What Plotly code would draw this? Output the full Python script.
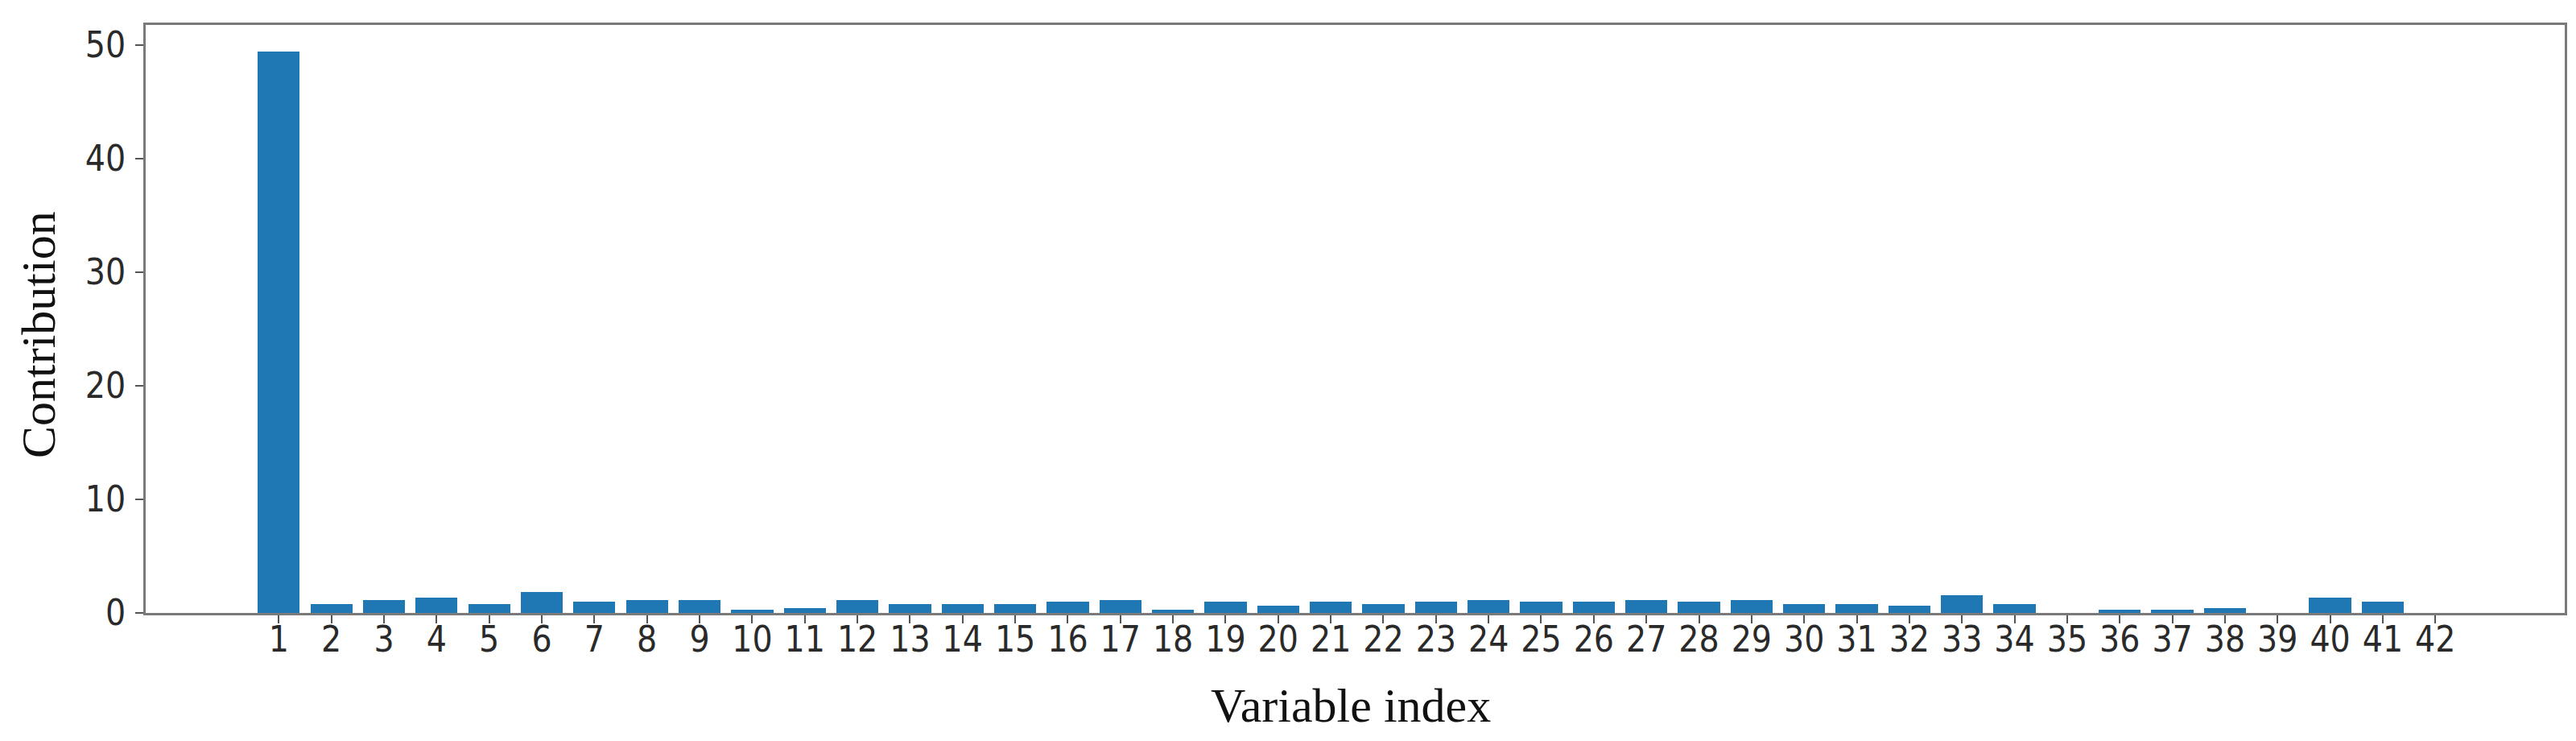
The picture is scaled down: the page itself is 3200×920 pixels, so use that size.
import plotly.graph_objects as go

variable_index = list(range(1, 43))
contribution = [
    49.4, 0.78, 1.15, 1.33, 0.78, 1.87, 0.97, 1.15, 1.15, 0.27,
    0.45, 1.15, 0.78, 0.78, 0.78, 0.97, 1.15, 0.27, 0.97, 0.61,
    0.97, 0.78, 0.97, 1.15, 0.97, 0.97, 1.15, 0.97, 1.15, 0.78,
    0.78, 0.61, 1.53, 0.78, 0.0, 0.27, 0.27, 0.45, 0.0, 1.33,
    0.97, 0.0,
]
y_ticks = [0, 10, 20, 30, 40, 50]

W, H = 3200, 920
L, R, T, B = 173, 22, 23, 167

fig = go.Figure(
    go.Bar(
        x=variable_index,
        y=contribution,
        width=0.8,
        marker=dict(color="#1f77b4", line=dict(width=0)),
    )
)

tick_font = dict(family="DejaVu Sans Condensed, DejaVu Sans", size=44, color="#2a2a2a")
axis_common = dict(
    showline=True, linecolor="#7a7a7a", linewidth=3, mirror=True,
    ticks="outside", ticklen=10, tickwidth=2, tickcolor="#555555",
    showgrid=False, zeroline=False, tickfont=tick_font,
)

fig.update_xaxes(
    range=[-1.53, 44.46], tickmode="array", tickvals=variable_index,
    ticktext=[str(v) for v in variable_index], ticklabelstandoff=-18, **axis_common,
)
fig.update_yaxes(
    range=[0, 51.77], tickmode="array", tickvals=y_ticks,
    ticktext=[str(v) for v in y_ticks], ticklabelstandoff=3, **axis_common,
)

title_font = dict(family="Liberation Serif", size=60, color="#111111")
plot_h = H - T - B
fig.add_annotation(
    text="Variable index", xref="paper", yref="paper", x=0.5, y=0,
    xanchor="center", yanchor="middle", yshift=-115, xshift=-6,
    showarrow=False, font=title_font,
)
fig.add_annotation(
    text="Contribution", xref="paper", yref="paper", x=0, y=(753 - 408) / plot_h,
    xanchor="center", yanchor="middle", xshift=-133, textangle=-90,
    showarrow=False, font=title_font,
)

fig.update_layout(
    width=W, height=H, margin=dict(l=L, r=R, t=T, b=B, autoexpand=False),
    paper_bgcolor="white", plot_bgcolor="white", showlegend=False,
    bargap=0,
)

fig.write_html("out.html")
